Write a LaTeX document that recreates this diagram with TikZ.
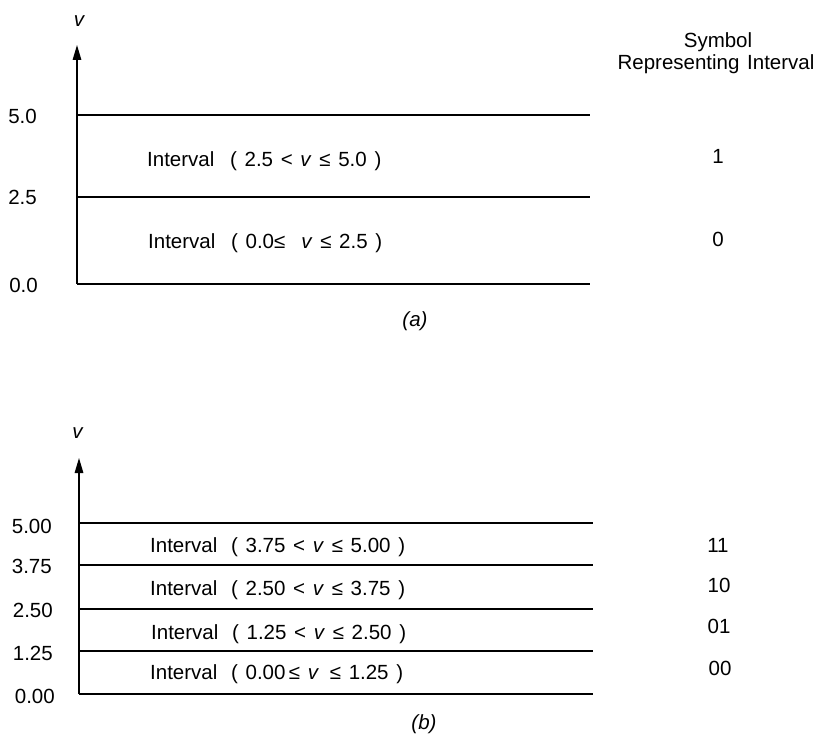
\documentclass[tikz,border=0pt]{standalone}
\usepackage{fontspec}
\setmainfont{Liberation Sans}[WordSpace=1.35]
\usetikzlibrary{arrows.meta}
\begin{document}
\begin{tikzpicture}[x=1pt,y=-1pt,
  lbl/.style={font=\fontsize{20.5}{22}\selectfont, inner sep=0pt},
  band/.style={lbl, anchor=base west},
  tick/.style={lbl, anchor=base east},
  code/.style={lbl, anchor=base},
  level/.style={line width=1.2pt},
  axis/.style={line width=1.4pt, -{Triangle[length=15pt,width=8.5pt]}}]
\useasboundingbox (0,0) rectangle (819,735);

% ---------- (a): one-bit quantisation ----------
\coordinate (aO) at (77,284);
\coordinate (aTip) at (77,45);
\coordinate (aL1) at (77,197);
\coordinate (aL2) at (77,115);
\coordinate (aR0) at (590,284);
\coordinate (aR1) at (590,197);
\coordinate (aR2) at (590,115);
\draw[axis] (aO) -- (aTip);
\draw[level] (aO) -- (aR0);
\draw[level] (aL1) -- (aR1);
\draw[level] (aL2) -- (aR2);
\node[code] (avar) at (79,27) {\itshape v};

\node[tick] (at2) at (37,124) {5.0};
\node[tick] (at1) at (37,205) {2.5};
\node[tick] (at0) at (38,293) {0.0};

\node[band] (aint1) at (147,167) {Interval\hspace{8pt} ( 2.5 < \textit{v} ≤ 5.0 )};
\node[band] (aint0) at (148,249) {Interval\hspace{8pt} ( 0.0≤\hspace{16pt}\textit{v} ≤ 2.5 )};

\node[code] (hdr1) at (718,48) {Symbol};
\node[code] (hdr2) at (716,70) {Representing Interval};
\node[code] (acode1) at (718,164) {1};
\node[code] (acode0) at (718,247) {0};

\node[code] (acap) at (415,326) {\itshape (a)};

% ---------- (b): two-bit quantisation ----------
\coordinate (bO) at (79,694);
\coordinate (bTip) at (79,458);
\coordinate (bL1) at (79,651);
\coordinate (bL2) at (79,609);
\coordinate (bL3) at (79,565);
\coordinate (bL4) at (79,523);
\coordinate (bR0) at (593,694);
\coordinate (bR1) at (593,651);
\coordinate (bR2) at (593,609);
\coordinate (bR3) at (593,565);
\coordinate (bR4) at (593,523);
\draw[axis] (bO) -- (bTip);
\draw[level] (bO) -- (bR0);
\draw[level] (bL1) -- (bR1);
\draw[level] (bL2) -- (bR2);
\draw[level] (bL3) -- (bR3);
\draw[level] (bL4) -- (bR4);
\node[code] (bvar) at (77.5,438) {\itshape v};

\node[tick] (bt4) at (52,533) {5.00};
\node[tick] (bt3) at (52,573) {3.75};
\node[tick] (bt2) at (53,617) {2.50};
\node[tick] (bt1) at (53,660) {1.25};
\node[tick] (bt0) at (55,703) {0.00};

\node[band] (bint3) at (150,552) {Interval\hspace{6pt} ( 3.75 < \textit{v} ≤ 5.00 )};
\node[band] (bint2) at (150,595) {Interval\hspace{6pt} ( 2.50 < \textit{v} ≤ 3.75 )};
\node[band] (bint1) at (151,639) {Interval\hspace{6pt} ( 1.25 < \textit{v} ≤ 2.50 )};
\node[band] (bint0) at (150,679) {Interval\hspace{6pt} ( 0.00\,≤ \textit{v}\hspace{3pt} ≤ 1.25 )};

\node[code] (bcode3) at (718,552) {11};
\node[code] (bcode2) at (719,592) {10};
\node[code] (bcode1) at (719,633) {01};
\node[code] (bcode0) at (720,675) {00};

\node[code] (bcap) at (424,729) {\itshape (b)};
\end{tikzpicture}
\end{document}
